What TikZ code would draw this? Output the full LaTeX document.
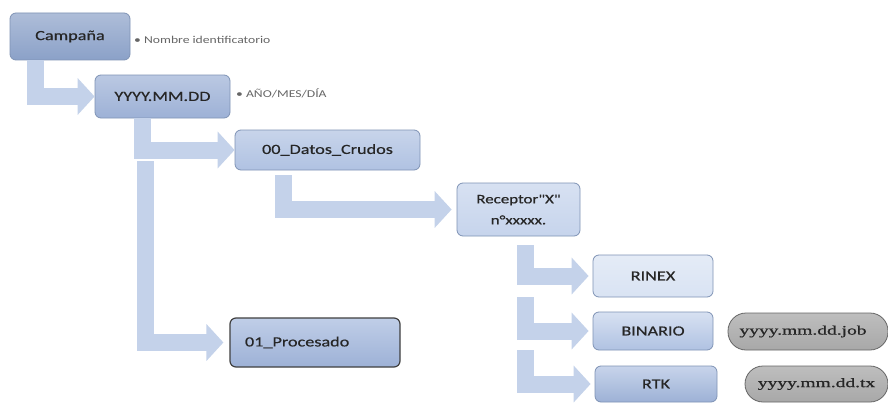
\documentclass[tikz,border=0pt]{standalone}
\usepackage{fontspec}
\setmainfont{Carlito}
\newfontfamily\boxfont[FakeStretch=1.3,FakeBold=0.5]{Carlito}
\newfontfamily\notefont[FakeStretch=1.3]{Carlito}
\newfontfamily\pillfont[FakeStretch=1.5,FakeBold=0.8]{Liberation Serif}
\usetikzlibrary{arrows.meta}
\definecolor{flecha}{HTML}{C4D2EA}
\definecolor{borde}{HTML}{7F93B5}
\definecolor{gris}{HTML}{A8A8A8}
\definecolor{azulA}{HTML}{8BA1C8}
\definecolor{azulB}{HTML}{9DB1D6}
\definecolor{azulC}{HTML}{B0C2E2}
\definecolor{azulD}{HTML}{C6D4EC}
\definecolor{azulE}{HTML}{D9E3F3}
\tikzset{
  carpeta/.style={draw=borde, line width=0.8pt, rounded corners=6pt, inner sep=2pt,
    align=center, font=\boxfont\fontsize{14}{20}\selectfont, text=black!85},
  nota/.style={anchor=west, inner sep=0pt, font=\notefont\fontsize{10.5}{12}\selectfont, text=black!60},
  archivo/.style={draw=gray!80!black, line width=0.8pt, rounded corners=18pt, inner sep=0pt,
    top color=gris!75, bottom color=gris, font=\pillfont\fontsize{13}{15}\selectfont, text=black!85},
  rama/.style={draw=flecha, line width=17pt, -{Triangle[width=36pt,length=17pt]}}
}
\begin{document}
\begin{tikzpicture}[x=1pt,y=-1pt]
\clip (0,0) rectangle (888,404);
\fill[white] (0,0) rectangle (888,404);
% carpetas
\node[carpeta, minimum width=120pt, minimum height=47pt, top color=azulA!70, bottom color=azulA] (camp) at (70,36.5) {Campaña};
\node[carpeta, minimum width=135pt, minimum height=43pt, top color=azulB!70, bottom color=azulB] (fecha) at (162.5,96.5) {YYYY.MM.DD};
\node[carpeta, minimum width=185pt, minimum height=40pt, top color=azulC!70, bottom color=azulC] (crudos) at (327.5,150) {00\_Datos\_Crudos};
\node[carpeta, minimum width=123pt, minimum height=53pt, top color=azulD!70, bottom color=azulD,
  font=\boxfont\fontsize{13}{21}\selectfont] (receptor) at (518.5,209.5) {Receptor"X"\\n°xxxxx.};
\node[carpeta, minimum width=120pt, minimum height=42pt, top color=azulE!70, bottom color=azulE] (rinex) at (653,276) {RINEX};
\node[carpeta, minimum width=120pt, minimum height=38pt, top color=azulD!70, bottom color=azulC] (binario) at (653,331) {BINARIO};
\node[carpeta, minimum width=122pt, minimum height=36pt, top color=azulC!70, bottom color=azulB] (rtk) at (656,384) {RTK};
\node[carpeta, minimum width=170pt, minimum height=49pt, top color=azulC!80, bottom color=azulB,
  draw=black!75, line width=1.2pt, text width=140pt, align=left] (proc) at (315,342.5) {01\_Procesado};
% archivos
\node[archivo, minimum width=160pt, minimum height=37pt] (job) at (808,331.5) {\hspace*{-10pt}yyyy.mm.dd.job};
\node[archivo, minimum width=143pt, minimum height=36pt] (tx) at (816.5,384) {yyyy.mm.dd.tx};
% notas
\node[nota] (nNombre) at (134,40) {• Nombre identificatorio};
\node[nota] (nFecha) at (236,93) {• AÑO/MES/DÍA};
% ramas
\draw[rama] ([xshift=26pt]camp.south west) |- (fecha.west);
\draw[rama] ([xshift=48pt]fecha.south west) |- (crudos.west);
\draw[rama, shorten >=6pt] ([xshift=51pt,yshift=-43pt]fecha.south west) |- (proc.west);
\draw[rama, shorten >=5pt] ([xshift=49pt,yshift=-5pt]crudos.south west) |- (receptor.west);
\draw[rama, shorten >=4pt] ([xshift=69pt,yshift=-9pt]receptor.south west) |- (rinex.west);
\draw[rama, shorten >=4pt] ([xshift=69pt,yshift=-61pt]receptor.south west) |- (binario.west);
\draw[rama, shorten >=4pt] ([xshift=69pt,yshift=-114pt]receptor.south west) |- (rtk.west);
\end{tikzpicture}
\end{document}
